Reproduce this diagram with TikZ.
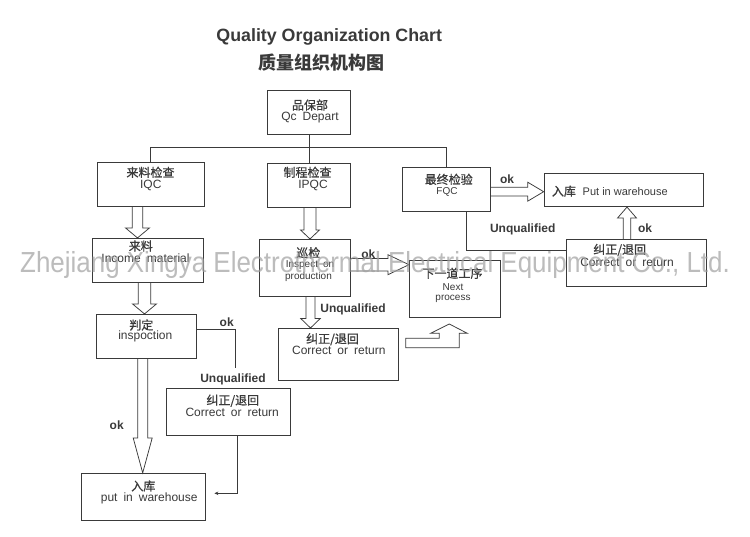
\documentclass[tikz,border=0pt]{standalone}
\usepackage{fontspec}
\usepackage{graphicx}
\setmainfont{Liberation Sans}
\newfontfamily\cn[FakeBold=0.8]{Noto Sans CJK SC}
\newfontfamily\cnt{Noto Sans CJK SC}
\newfontfamily\en[WordSpace=1.8]{Liberation Sans}
\usetikzlibrary{arrows.meta,calc}
\definecolor{ln}{HTML}{3A3A3A}
\definecolor{tx}{HTML}{3A3A3A}
\definecolor{wm}{HTML}{A0A0A0}
\tikzset{
  bx/.style 2 args={draw=ln,line width=0.75pt,inner sep=0pt,minimum width=#1pt,minimum height=#2pt},
  cnt/.style={font=\cn\fontsize{12}{14}\selectfont,text=tx,inner sep=0pt},
  ent/.style={font=\en\fontsize{12}{14}\selectfont,text=tx,inner sep=0pt},
  ens/.style={font=\en\fontsize{10}{12}\selectfont,text=tx,inner sep=0pt},
  lbl/.style={font=\bfseries\fontsize{12}{14}\selectfont,text=tx,inner sep=0pt},
  blk/.style={draw=ln,line width=0.75pt,line join=miter},
  con/.style={draw=ln,line width=0.75pt},
}
% hollow block arrows
\newcommand\blkdown[6]{% x, from, to, shaft half, head half, head length
  \draw[blk] let \p1=(#2), \p2=(#3) in
  ({#1pt-#4pt},\y1) -- ({#1pt-#4pt},{\y2+#6pt}) -- ({#1pt-#5pt},{\y2+#6pt}) -- (#1pt,\y2)
  -- ({#1pt+#5pt},{\y2+#6pt}) -- ({#1pt+#4pt},{\y2+#6pt}) -- ({#1pt+#4pt},\y1);}
\newcommand\blkup[6]{%
  \draw[blk] let \p1=(#2), \p2=(#3) in
  ({#1pt-#4pt},\y1) -- ({#1pt-#4pt},{\y2-#6pt}) -- ({#1pt-#5pt},{\y2-#6pt}) -- (#1pt,\y2)
  -- ({#1pt+#5pt},{\y2-#6pt}) -- ({#1pt+#4pt},{\y2-#6pt}) -- ({#1pt+#4pt},\y1);}
\newcommand\blkright[6]{% y(pixel), from, to, shaft half, head half, head length
  \draw[blk] let \p1=(#2), \p2=(#3) in
  (\x1,{-#1pt+#4pt}) -- ({\x2-#6pt},{-#1pt+#4pt}) -- ({\x2-#6pt},{-#1pt+#5pt}) -- (\x2,-#1pt)
  -- ({\x2-#6pt},{-#1pt-#5pt}) -- ({\x2-#6pt},{-#1pt-#4pt}) -- (\x1,{-#1pt-#4pt});}
\begin{document}
\begin{tikzpicture}[x=1pt,y=-1pt]
\fill[white] (0,0) rectangle (750,537);
\useasboundingbox (0,0) rectangle (750,537);

% titles
\node[font=\bfseries\fontsize{17.8}{20}\selectfont,text=tx,inner sep=0pt] (title) at (329.2,37) {Quality Organization Chart};
\node[font=\cnt\bfseries\fontsize{18}{20}\selectfont,text=tx,inner sep=0pt] (titlecn) at (321.7,62.5) {质量组织机构图};

% boxes
\node[bx={83}{44.3}]    (qc)     at (309.2,112.2) {};
\node[bx={106.7}{44.4}] (iqc)    at (150.7,184.5) {};
\node[bx={82.3}{43.7}]  (ipqc)   at (308.9,185.2) {};
\node[bx={87.3}{43.3}]  (fqc)    at (446.4,189.4) {};
\node[bx={159.3}{33.4}] (wareR)  at (623.7,190) {};
\node[bx={139.3}{47.4}] (corrR)  at (636.4,263) {};
\node[bx={111}{44}]     (mat)    at (147.8,260.3) {};
\node[bx={100}{44}]     (judge)  at (146.7,336.3) {};
\node[bx={91.4}{56.7}]  (patrol) at (305,267.7) {};
\node[bx={90.7}{56.6}]  (next)   at (454.7,289) {};
\node[bx={120}{51.7}]   (corrM)  at (338.3,354.2) {};
\node[bx={124}{46.7}]   (corrL)  at (228.7,411.7) {};
\node[bx={124}{47.4}]   (wareL)  at (143.7,497) {};

% box texts
\node[cnt] (qc1) at (310,105) {品保部};
\node[ent] (qc2) at (310,117.5) {Qc Depart};
\node[cnt] (iqc1) at (150.5,172.3) {来料检查};
\node[ent] (iqc2) at (150.8,185) {IQC};
\node[cnt] (ipqc1) at (307.5,172.3) {制程检查};
\node[ent] (ipqc2) at (313,185) {IPQC};
\node[cnt] (fqc1) at (448.7,179.3) {最终检验};
\node[font=\en\fontsize{10}{12}\selectfont,text=tx,inner sep=0pt] (fqc2) at (447,191.7) {FQC};
\node[cnt,anchor=west] (wR1) at (551.7,191.2) {入库};
\node[font=\fontsize{11}{13}\selectfont,text=tx,inner sep=0pt,anchor=west] (wR2) at (582.5,191.7) {Put in warehouse};
\node[cnt] (cR1) at (619.7,250) {纠正/退回};
\node[ent] (cR2) at (627,262) {Correct or return};
\node[cnt] (mat1) at (140.8,246) {来料};
\node[ent] (mat2) at (145.5,258.5) {Income material};
\node[cnt] (jd1) at (141.3,325) {判定};
\node[ent] (jd2) at (145.3,336) {inspoction};
\node[cnt] (pt1) at (308.3,252.7) {巡检};
\node[ens] (pt2) at (310,265) {Inspect on};
\node[ens] (pt3) at (308.5,276.5) {production};
\node[cnt] (nx1) at (452.5,273.3) {下一道工序};
\node[ens] (nx2) at (453,287.3) {Next};
\node[ens] (nx3) at (453,299.3) {process};
\node[cnt] (cM1) at (332.5,339.3) {纠正/退回};
\node[ent] (cM2) at (338.8,350.5) {Correct or return};
\node[cnt] (cL1) at (232.8,400.7) {纠正/退回};
\node[ent] (cL2) at (232.2,412.5) {Correct or return};
\node[cnt] (wL1) at (143.3,486) {入库};
\node[ent] (wL2) at (149.2,498) {put in warehouse};

% labels
\node[lbl] (ok1) at (507,179.3) {ok};
\node[lbl] (un1) at (522.7,229) {Unqualified};
\node[lbl] (ok2) at (645,228.3) {ok};
\node[lbl] (ok3) at (368.3,254) {ok};
\node[lbl] (un2) at (353,309) {Unqualified};
\node[lbl] (ok4) at (226.7,322.7) {ok};
\node[lbl] (un3) at (233,379) {Unqualified};
\node[lbl] (ok5) at (116.7,425) {ok};

% tree connectors
\coordinate (bus) at (0,147.3);
\draw[con] (qc.south) -- (qc.south |- bus);
\draw[con] (iqc.north) -- (iqc.north |- bus) -- (fqc.north |- bus) -- (fqc.north);
\draw[con] (ipqc.north) -- (ipqc.north |- bus);
\draw[con] ([xshift=20.4pt]fqc.south) |- ([yshift=12.3pt]corrR.west);
\coordinate (okend) at (235.5,368);
\draw[con] ([yshift=7.3pt]judge.east) -| (okend);
\draw[con,-{Stealth[length=4pt,width=3.5pt]}] ([xshift=8.6pt]corrL.south) |- ([xshift=8.3pt,yshift=3.7pt]wareL.east);

% block arrows
\blkdown{137.5}{iqc.south}{mat.north}{5.2}{12}{10}
\blkdown{144.5}{mat.south}{judge.north}{6.2}{12}{10}
\blkdown{310}{ipqc.south}{patrol.north}{6}{9.5}{9}
\blkdown{310.5}{patrol.south}{corrM.north}{4.5}{9.7}{9.4}
\blkdown{142.7}{judge.south}{wareL.north}{5}{9.5}{35}
\blkright{191.7}{fqc.east}{wareR.west}{4.4}{9.5}{16}
\blkright{264.7}{patrol.east}{next.west}{6.3}{10}{21}
\blkup{627}{corrR.north}{wareR.south}{3.8}{9.5}{11}
\draw[blk] (405.7,338.3) -- (439.3,338.3) -- (439.3,333.3) -- (430.7,333.3) -- (449.3,324)
  -- (467.3,333.3) -- (459.3,333.3) -- (459.3,347.7) -- (405.7,347.7) -- cycle;

% watermark
\node[anchor=base west,inner sep=0pt,text=wm,opacity=0.7,font=\fontsize{29}{30}\selectfont] (wmark) at (20,272.5)
  {\scalebox{0.895}[1]{Zhejiang Xingya Electrothermal Electrical Equipment Co., Ltd.}};
\end{tikzpicture}
\end{document}
